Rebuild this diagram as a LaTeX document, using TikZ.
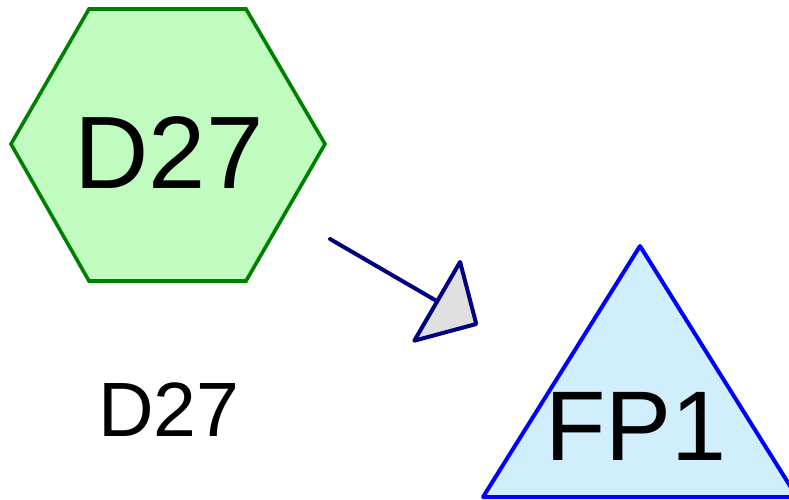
\documentclass[tikz,border=0pt]{standalone}
\usepackage{fontspec}
\setmainfont{Liberation Sans}
\usetikzlibrary{arrows.meta}
\definecolor{hexfill}{RGB}{192,252,192}
\definecolor{hexline}{RGB}{0,128,0}
\definecolor{trifill}{RGB}{208,238,252}
\definecolor{triline}{RGB}{0,0,255}
\definecolor{arrline}{RGB}{0,0,128}
\definecolor{arrfill}{RGB}{224,224,224}
\tikzset{
  hexshape/.style={draw=hexline,fill=hexfill,line width=3.6pt,line join=miter},
  trishape/.style={draw=triline,fill=trifill,line width=4pt,line join=round},
  bigtext/.style={inner sep=0pt,anchor=base,font=\fontsize{103}{103}\selectfont},
  fptext/.style={inner sep=0pt,anchor=base,font=\fontsize{99}{99}\selectfont},
  lbltext/.style={inner sep=0pt,anchor=base,font=\fontsize{77}{77}\selectfont},
  conn/.style={draw=arrline,line width=4pt,line cap=round,
    -{Triangle[length=50pt,width=100pt,fill=arrfill,line join=round]}}
}
\begin{document}
\begin{tikzpicture}[x=1pt,y=-1pt]
\useasboundingbox (0,0) rectangle (789,500);
% hexagon
\draw[hexshape] (89,9) -- (246,9) -- (325,144) -- (246,281) -- (89,281) -- (11,144) -- cycle;
\node[bigtext] (d27) at (169,188) {D27};
% label below
\node[lbltext] (d27lbl) at (169,436) {D27};
% triangle
\draw[trishape] (640,246) -- (797,497) -- (483,497) -- cycle;
\node[fptext] (fp1) at (636,460) {FP1};
% connector
\coordinate (cs) at (330,239);
\coordinate (ce) at (478,325);
\draw[conn] (cs) -- (ce);
\end{tikzpicture}
\end{document}
